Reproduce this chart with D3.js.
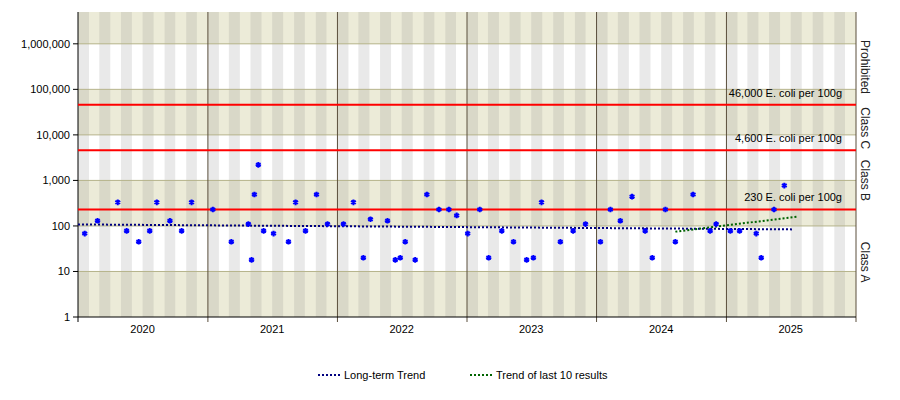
<!DOCTYPE html>
<html><head><meta charset="utf-8">
<script src="https://cdn.jsdelivr.net/npm/d3@7"></script>
<style>body{margin:0;background:#fff}text{font-family:"Liberation Sans",Arial,sans-serif;font-size:11px;fill:#000}</style>
</head><body><svg id="chart" width="900" height="400"></svg>
<script>
// sample results (E. coli per 100g)
var sampleDates = ["2020-01-20","2020-02-25","2020-04-22","2020-05-17","2020-06-20","2020-07-21","2020-08-10","2020-09-16","2020-10-19","2020-11-16",
  "2021-01-15","2021-03-08","2021-04-25","2021-05-04","2021-05-12","2021-05-23","2021-06-07","2021-07-05","2021-08-16","2021-09-05","2021-10-03","2021-11-03","2021-12-04",
  "2022-01-18","2022-02-15","2022-03-15","2022-04-04","2022-05-22","2022-06-13","2022-06-27","2022-07-11","2022-08-08","2022-09-10","2022-10-14","2022-11-11","2022-12-03",
  "2023-01-03","2023-02-06","2023-03-03","2023-04-09","2023-05-12","2023-06-18","2023-07-07","2023-07-30","2023-09-21","2023-10-27","2023-12-01",
  "2024-01-12","2024-02-09","2024-03-08","2024-04-10","2024-05-17","2024-06-06","2024-07-13","2024-08-10","2024-09-29","2024-11-16","2024-12-03",
  "2025-01-12","2025-02-07","2025-03-26","2025-04-09","2025-05-15","2025-06-13"];
var sampleValues = [68,130,330,78,45,78,330,130,78,330,
  230,45,110,18,490,2200,78,68,45,330,78,490,110,
  110,330,20,140,130,18,20,45,18,490,230,230,170,
  68,230,20,78,45,18,20,330,45,78,110,
  45,230,130,440,78,20,230,45,490,78,110,
  78,78,68,20,230,770];
var longTrendDates = ["2020-01-01","2025-07-10"], longTrendValues = [108,84];
var last10Dates = ["2024-08-10","2025-07-20"], last10Values = [75,160];
var limitValues = [230,4600,46000];
var limitLabels = ["230 E. coli per 100g","4,600 E. coli per 100g","46,000 E. coli per 100g"];
var classNames = ["Class A","Class B","Class C","Prohibited"];
var classCentres = [16,1000,14000,310000];
var yTicks = [1,10,100,1000,10000,100000,1000000];
var years = [2020,2021,2022,2023,2024,2025];

var svg = d3.select("#chart"),
    margin = {left: 78, right: 44, top: 12, bottom: 83},
    width = +svg.attr("width") - margin.left - margin.right,
    height = +svg.attr("height") - margin.top - margin.bottom;
var parse = d3.timeParse("%Y-%m-%d");
var x = d3.scaleTime().domain([new Date(2020,0,1), new Date(2026,0,1)]).range([margin.left, margin.left + width]);
var y = d3.scaleLog().domain([1, 5000000]).range([margin.top + height, margin.top]);

// decade bands
var bands = yTicks.map(function (d) { return [d, Math.min(d * 10, 5000000)]; });
svg.selectAll(".band").data(bands).enter().append("rect")
    .attr("x", margin.left).attr("width", width)
    .attr("y", d => y(d[1])).attr("height", d => y(d[0]) - y(d[1]))
    .style("fill", (d, i) => i % 2 === 0 ? "#ECEBD8" : "#FFFFFF");
// month stripes
var months = d3.timeMonth.range(new Date(2020,0,1), new Date(2026,0,1)).filter(d => d.getMonth() % 2 === 0);
svg.selectAll(".stripe").data(months).enter().append("rect")
    .attr("x", d => x(d)).attr("width", d => x(d3.timeMonth.offset(d, 1)) - x(d))
    .attr("y", margin.top).attr("height", height)
    .style("fill", "#7a7a7a").style("opacity", 0.17);
// decade grid
svg.selectAll(".hg").data(yTicks.slice(1)).enter().append("line")
    .attr("x1", margin.left).attr("x2", margin.left + width)
    .attr("y1", d => y(d)).attr("y2", d => y(d))
    .style("stroke", "#B5B38A");
// year lines
svg.selectAll(".vg").data(years.slice(1).concat([2026])).enter().append("line")
    .attr("x1", d => x(new Date(d,0,1))).attr("x2", d => x(new Date(d,0,1)))
    .attr("y1", margin.top).attr("y2", margin.top + height + 5)
    .style("stroke", "#5a4e3c");
// axes
svg.append("line").attr("x1", margin.left).attr("x2", margin.left).attr("y1", margin.top).attr("y2", margin.top + height).style("stroke", "#000");
svg.append("line").attr("x1", margin.left).attr("x2", margin.left + width).attr("y1", margin.top + height).attr("y2", margin.top + height).style("stroke", "#000");
svg.append("line").attr("x1", margin.left).attr("x2", margin.left).attr("y1", margin.top + height).attr("y2", margin.top + height + 5).style("stroke", "#000");
svg.selectAll(".yt").data(yTicks).enter().append("line")
    .attr("x1", margin.left - 5).attr("x2", margin.left).attr("y1", d => y(d)).attr("y2", d => y(d)).style("stroke", "#000");
svg.selectAll(".yl").data(yTicks).enter().append("text")
    .attr("x", margin.left - 8).attr("y", d => y(d) + 4).attr("text-anchor", "end")
    .text(d3.format(","));
svg.selectAll(".xl").data(years).enter().append("text")
    .attr("x", d => x(new Date(d,6,1))).attr("y", margin.top + height + 16).attr("text-anchor", "middle")
    .text(d => d);

// limits
svg.selectAll(".lim").data(limitValues).enter().append("line")
    .attr("x1", margin.left).attr("x2", margin.left + width)
    .attr("y1", d => y(d)).attr("y2", d => y(d))
    .style("stroke", "#FF0000").style("stroke-width", 2);
svg.selectAll(".liml").data(limitValues).enter().append("text")
    .attr("x", margin.left + width - 14).attr("y", d => y(d) - 8).attr("text-anchor", "end")
    .text((d, i) => limitLabels[i]);
svg.selectAll(".cls").data(classNames).enter().append("text")
    .attr("transform", (d, i) => "translate(" + (margin.left + width + 5) + "," + y(classCentres[i]) + ") rotate(90)")
    .attr("text-anchor", "middle").style("font-size", "12px").style("fill", "#222")
    .text(d => d);

// trends
var line = d3.line().x(d => x(parse(d[0]))).y(d => y(d[1]));
svg.append("path").attr("d", line(d3.zip(longTrendDates, longTrendValues)))
    .style("stroke", "#000080").style("stroke-width", 2).style("stroke-dasharray", "2,2").style("fill", "none");
svg.append("path").attr("d", line(d3.zip(last10Dates, last10Values)))
    .style("stroke", "#006400").style("stroke-width", 2).style("stroke-dasharray", "2,2").style("fill", "none");

// points
var star = d3.symbol().type(d3.symbolAsterisk).size(22);
svg.selectAll(".pt").data(d3.zip(sampleDates, sampleValues)).enter().append("path")
    .attr("d", star)
    .attr("transform", d => "translate(" + x(parse(d[0])) + "," + y(d[1]) + ")")
    .style("stroke", "#0000FF").style("stroke-width", 2).style("fill", "#0000FF");

// legend
var legend = [["Long-term Trend", "#000080", 318], ["Trend of last 10 results", "#006400", 470]];
var lg = svg.selectAll(".lg").data(legend).enter().append("g");
lg.append("line").attr("x1", d => d[2]).attr("x2", d => d[2] + 22).attr("y1", 375).attr("y2", 375)
    .style("stroke", d => d[1]).style("stroke-width", 2).style("stroke-dasharray", "2,2");
lg.append("text").attr("x", d => d[2] + 26).attr("y", 379).text(d => d[0]);
</script></body></html>
